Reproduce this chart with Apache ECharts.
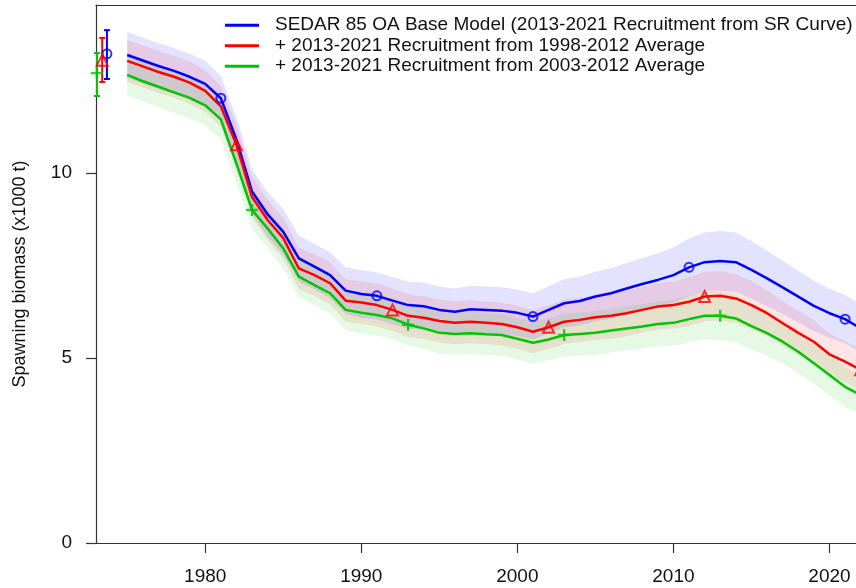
<!DOCTYPE html>
<html>
<head>
<meta charset="utf-8">
<script src="https://cdn.jsdelivr.net/npm/echarts@6/dist/echarts.min.js"></script>
<style>
  html, body { margin: 0; padding: 0; background: #fff; }
  #chart { width: 856px; height: 588px; }
</style>
</head>
<body>
<div id="chart"></div>
<script>
// years 1975-2022
const years = [];
for (let y = 1975; y <= 2022; y++) years.push(y);

const seriesNames = [
  'SEDAR 85 OA Base Model (2013-2021 Recruitment from SR Curve)',
  '+ 2013-2021 Recruitment from 1998-2012 Average',
  '+ 2013-2021 Recruitment from 2003-2012 Average'
];

const baseSSB = [
  13.19, 13.04, 12.89, 12.76, 12.60, 12.41, 12.02, 10.90, 9.50, 8.88,
  8.41, 7.69, 7.47, 7.24, 6.82, 6.73, 6.68, 6.55, 6.43, 6.40,
  6.30, 6.25, 6.32, 6.30, 6.28, 6.22, 6.12, 6.30, 6.48, 6.54,
  6.66, 6.75, 6.88, 7.00, 7.11, 7.24, 7.45, 7.59, 7.62, 7.59,
  7.38, 7.15, 6.91, 6.66, 6.41, 6.21, 6.05, 5.80
];
const avg9812SSB = [
  13.03, 12.88, 12.73, 12.60, 12.44, 12.22, 11.80, 10.76, 9.35, 8.73,
  8.24, 7.42, 7.24, 7.02, 6.55, 6.50, 6.43, 6.30, 6.14, 6.09,
  6.00, 5.95, 5.98, 5.95, 5.92, 5.83, 5.71, 5.83, 5.98, 6.03,
  6.10, 6.14, 6.21, 6.30, 6.39, 6.43, 6.52, 6.66, 6.68, 6.61,
  6.43, 6.21, 5.94, 5.68, 5.44, 5.10, 4.90, 4.68
];
const avg0312SSB = [
  12.65, 12.48, 12.33, 12.18, 12.03, 11.83, 11.45, 10.25, 9.00, 8.50,
  7.96, 7.20, 6.97, 6.75, 6.30, 6.22, 6.16, 6.07, 5.90, 5.80,
  5.68, 5.65, 5.67, 5.64, 5.62, 5.52, 5.41, 5.50, 5.62, 5.65,
  5.68, 5.74, 5.80, 5.85, 5.92, 5.95, 6.05, 6.14, 6.14, 6.07,
  5.86, 5.67, 5.44, 5.17, 4.86, 4.54, 4.22, 4.00
];

// half-width of the shaded interval
const baseHalf = [
  0.62, 0.62, 0.62, 0.62, 0.62, 0.62, 0.60, 0.60, 0.60, 0.60,
  0.62, 0.62, 0.62, 0.62, 0.63, 0.64, 0.64, 0.64, 0.64, 0.64,
  0.63, 0.63, 0.63, 0.63, 0.63, 0.63, 0.63, 0.64, 0.65, 0.66,
  0.67, 0.68, 0.69, 0.70, 0.72, 0.75, 0.78, 0.80, 0.81, 0.80,
  0.78, 0.75, 0.72, 0.70, 0.68, 0.66, 0.65, 0.64
];
const avg9812Half = [
  0.57, 0.57, 0.57, 0.57, 0.57, 0.57, 0.56, 0.55, 0.55, 0.55,
  0.56, 0.56, 0.57, 0.57, 0.57, 0.58, 0.58, 0.58, 0.58, 0.58,
  0.58, 0.58, 0.58, 0.58, 0.58, 0.58, 0.58, 0.59, 0.60, 0.60,
  0.61, 0.61, 0.62, 0.62, 0.63, 0.64, 0.66, 0.67, 0.67, 0.66,
  0.65, 0.63, 0.61, 0.60, 0.58, 0.57, 0.56, 0.55
];
const avg0312Half = [
  0.55, 0.55, 0.55, 0.55, 0.55, 0.55, 0.54, 0.53, 0.53, 0.53,
  0.54, 0.54, 0.55, 0.55, 0.55, 0.56, 0.56, 0.56, 0.56, 0.56,
  0.56, 0.56, 0.56, 0.56, 0.56, 0.56, 0.56, 0.57, 0.58, 0.58,
  0.59, 0.59, 0.60, 0.60, 0.61, 0.62, 0.63, 0.64, 0.65, 0.64,
  0.63, 0.61, 0.59, 0.58, 0.56, 0.55, 0.54, 0.54
];

// years that carry a point symbol
const baseMarkYears = [1981, 1991, 2001, 2011, 2021];
const avg9812MarkYears = [1982, 1992, 2002, 2012, 2022];
const avg0312MarkYears = [1983, 1993, 2003, 2013];

// virgin biomass with intervals, plotted left of the series
const virgX = [1973.7, 1973.4, 1973.06];
const virgMid = [13.22, 13.05, 12.70];
const virgLo = [12.54, 12.46, 12.08];
const virgHi = [13.86, 13.65, 13.24];

const xTicks = [1980, 1990, 2000, 2010, 2020];
const yTicks = [0, 5, 10];

const colors = ['#0000ff', '#ff0000', '#00c400'];
const bandColors = ['rgba(0,0,255,0.11)', 'rgba(255,0,0,0.10)', 'rgba(0,200,0,0.10)'];
const plusPath = 'path://M4,0H6V4H10V6H6V10H4V6H0V4H4Z';
const markSymbols = ['circle', 'triangle', plusPath];

const values = [baseSSB, avg9812SSB, avg0312SSB];
const halves = [baseHalf, avg9812Half, avg0312Half];
const markYears = [baseMarkYears, avg9812MarkYears, avg0312MarkYears];

const chart = echarts.init(document.getElementById('chart'));
const fontFamily = 'Liberation Sans, Arial, sans-serif';

const series = [];
// shaded intervals, one polygon per model
values.forEach((vals, i) => {
  series.push({
    type: 'custom', name: 'band' + i,
    data: [[i]],
    silent: true,
    renderItem: function (params, api) {
      const upper = vals.map((v, k) => api.coord([years[k], v + halves[i][k]]));
      const lower = vals.map((v, k) => api.coord([years[k], v - halves[i][k]])).reverse();
      return {
        type: 'polygon',
        shape: { points: upper.concat(lower) },
        style: { fill: bandColors[i], stroke: null }
      };
    },
    clip: true,
    z: 1
  });
});
// main lines
values.forEach((vals, i) => {
  series.push({
    type: 'line', name: seriesNames[i],
    data: vals.map((v, k) => [years[k], v]),
    symbol: 'none', color: colors[i],
    lineStyle: { color: colors[i], width: 2.5 }, z: 3
  });
});
// point symbols
values.forEach((vals, i) => {
  const pts = markYears[i].map((yr) => [yr, vals[years.indexOf(yr)]]);
  pts.push([virgX[i], virgMid[i]]);
  series.push({
    type: 'scatter', name: 'mark' + i, data: pts,
    symbol: markSymbols[i], symbolSize: i === 2 ? 12 : (i === 1 ? 11 : 9),
    itemStyle: i === 2
      ? { color: colors[i] }
      : { color: 'rgba(0,0,0,0)', borderColor: colors[i], borderWidth: 2 },
    clip: false,
    z: 4
  });
});
// error bars for virgin biomass
series.push({
  type: 'custom', name: 'virg',
  data: virgX.map((x, i) => [x, virgLo[i], virgHi[i], i]),
  renderItem: function (params, api) {
    const lo = api.coord([api.value(0), api.value(1)]);
    const hi = api.coord([api.value(0), api.value(2)]);
    const c = colors[api.value(3)];
    const cap = 3;
    return {
      type: 'group',
      children: [
        { type: 'line', shape: { x1: lo[0], y1: lo[1], x2: hi[0], y2: hi[1] }, style: { stroke: c, lineWidth: 2 } },
        { type: 'line', shape: { x1: lo[0] - cap, y1: lo[1], x2: lo[0] + cap, y2: lo[1] }, style: { stroke: c, lineWidth: 2 } },
        { type: 'line', shape: { x1: hi[0] - cap, y1: hi[1], x2: hi[0] + cap, y2: hi[1] }, style: { stroke: c, lineWidth: 2 } }
      ]
    };
  },
  clip: false,
  z: 4
});

const axisLine = { show: true, onZero: false, lineStyle: { color: '#333', width: 1.2 } };

chart.setOption({
  animation: false,
  backgroundColor: '#fff',
  grid: { left: 96, top: 5, right: 0, bottom: 45, outerBoundsMode: 'none', containLabel: false },
  legend: {
    data: seriesNames.map((n) => ({ name: n })),
    orient: 'vertical',
    left: 225, top: 15,
    padding: 0,
    itemGap: 0,
    icon: 'rect',
    itemWidth: 34, itemHeight: 3,
    textStyle: {
      fontFamily: fontFamily,
      fontSize: 19, color: '#111', lineHeight: 20.5,
      padding: [0, 0, 0, 11]
    }
  },
  xAxis: [{
    type: 'value',
    min: 1973, max: 2021.7,
    splitLine: { show: false },
    axisLine: axisLine,
    axisTick: { show: true, length: 10, customValues: xTicks, lineStyle: { color: '#333', width: 1.2 } },
    axisLabel: {
      customValues: xTicks, margin: 24,
      formatter: (v) => String(v),
      fontFamily: fontFamily, fontSize: 19, color: '#111'
    }
  }, {
    // top edge of the box
    type: 'value', position: 'top',
    min: 1973, max: 2021.7,
    splitLine: { show: false },
    axisLine: axisLine,
    axisTick: { show: false },
    axisLabel: { show: false }
  }],
  yAxis: {
    type: 'value',
    min: 0, max: 14.54,
    name: 'Spawning biomass (x1000 t)',
    nameLocation: 'middle',
    nameGap: 67,
    nameTextStyle: { fontFamily: fontFamily, fontSize: 18, color: '#111' },
    splitLine: { show: false },
    axisLine: axisLine,
    axisTick: { show: true, length: 10, customValues: yTicks, lineStyle: { color: '#333', width: 1.2 } },
    axisLabel: {
      customValues: yTicks, margin: 24,
      formatter: (v) => String(v),
      fontFamily: fontFamily, fontSize: 19, color: '#111'
    }
  },
  series: series
});
</script>
</body>
</html>
